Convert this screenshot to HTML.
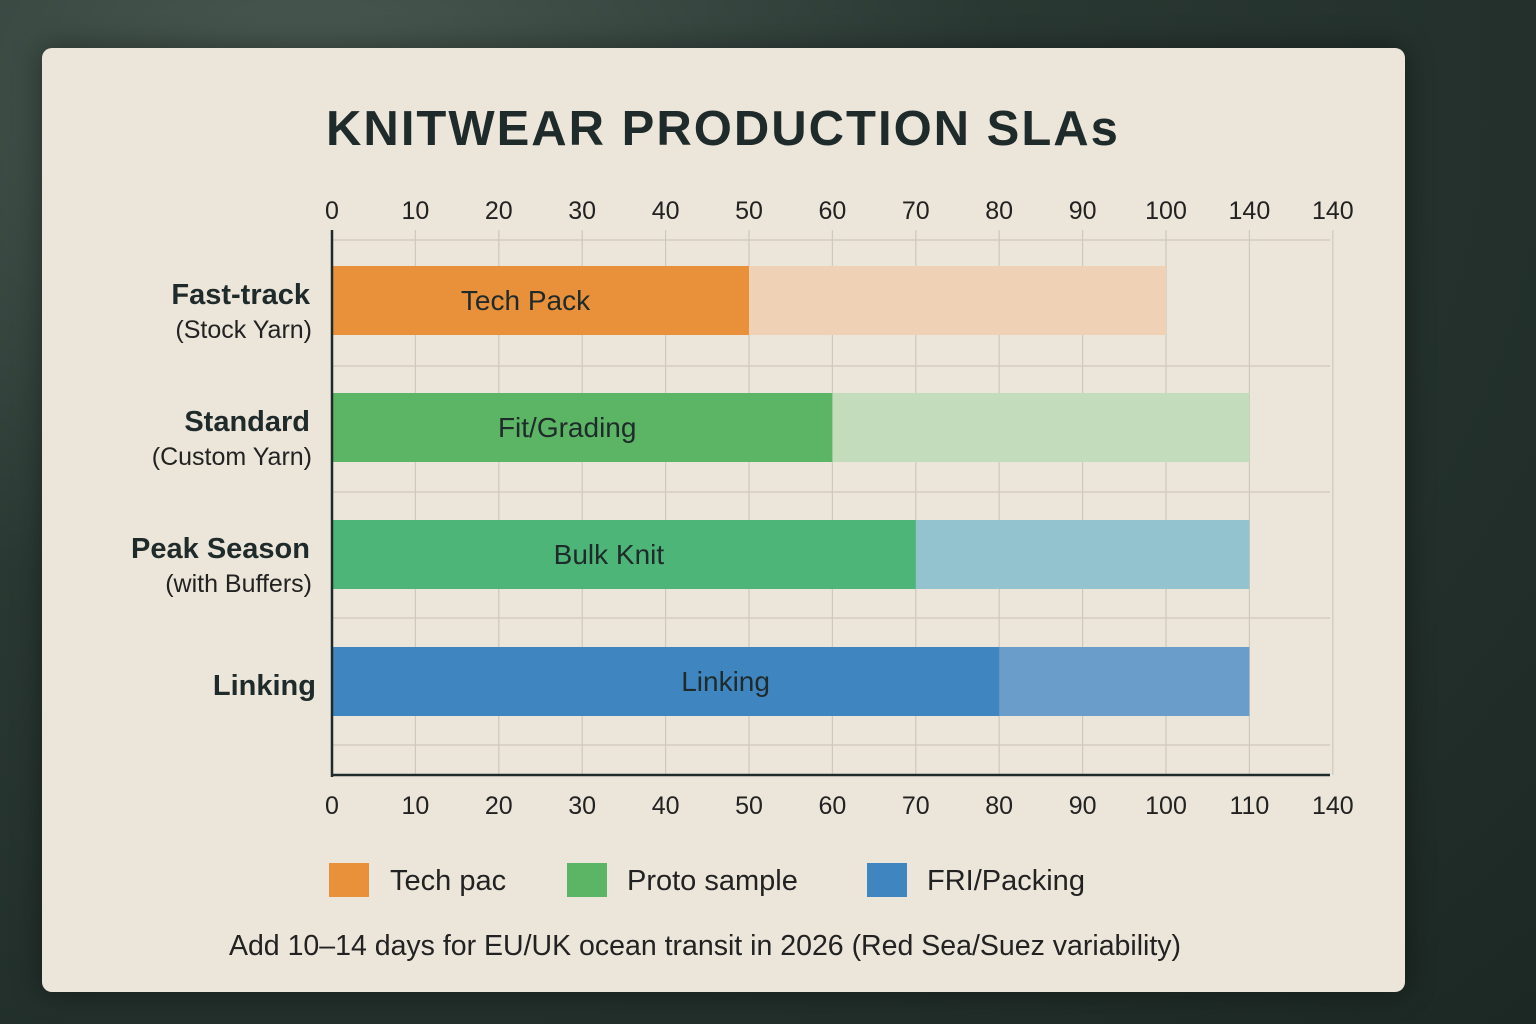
<!DOCTYPE html>
<html><head><meta charset="utf-8">
<style>
html,body{margin:0;padding:0;width:1536px;height:1024px;overflow:hidden;}
body{background:radial-gradient(ellipse at 20% 10%,#4a5a52 0%,#2a3833 40%,#1c2824 100%);font-family:"Liberation Sans",sans-serif;}
#card{position:absolute;left:42px;top:48px;width:1363px;height:944px;background:#ece5da;border-radius:10px;box-shadow:0 0 30px rgba(0,0,0,.4);}
svg{position:absolute;left:0;top:0;}
</style></head><body>
<div id="card"></div>
<svg id="chart" width="1536" height="1024">
<text x="723" y="145" text-anchor="middle" font-size="49" font-weight="bold" fill="#1f2a2a" letter-spacing="2">KNITWEAR PRODUCTION SLAs</text>
<g id="grid"></g><g id="bars"></g><g id="axes"></g>
<g id="legend" font-size="29" fill="#222">
<rect x="329" y="863" width="40" height="34" fill="#e8903a"/>
<text x="390" y="890">Tech pac</text>
<rect x="567" y="863" width="40" height="34" fill="#5cb565"/>
<text x="627" y="890">Proto sample</text>
<rect x="867" y="863" width="40" height="34" fill="#3f86c0"/>
<text x="927" y="890">FRI/Packing</text>
</g>
<text x="705" y="955" text-anchor="middle" font-size="28.5" fill="#222">Add 10–14 days for EU/UK ocean transit in 2026 (Red Sea/Suez variability)</text>
</svg>
<script>
const categories=["Fast-track","Standard","Peak Season","Linking"];
const subLabels=["(Stock Yarn)","(Custom Yarn)","(with Buffers)",""];
const solidValues=[50,60,70,80];
const totalValues=[100,110,110,110];
const barLabels=["Tech Pack","Fit/Grading","Bulk Knit","Linking"];
const topTicks=["0","10","20","30","40","50","60","70","80","90","100","140","140"];
const bottomTicks=["0","10","20","30","40","50","60","70","80","90","100","110","140"];
const solidColors=["#e8903a","#5cb565","#4db577","#3f86c0"];
const lightColors=["#efd2b5","#c3dcbc","#93c3cf","#6a9dca"];
const NS="http://www.w3.org/2000/svg";
const X0=332,STEP=83.4;
function x(v){return X0+v/10*STEP;}
function rowY(i){return 266+i*127;}
function mk(tag,attrs,parent,text){const e=document.createElementNS(NS,tag);for(const k in attrs)e.setAttribute(k,attrs[k]);if(text!==undefined)e.textContent=text;parent.appendChild(e);return e;}
const grid=document.getElementById('grid'),bars=document.getElementById('bars'),axes=document.getElementById('axes');
topTicks.forEach((t,i)=>{
  const gx=X0+i*STEP;
  if(i>0){const l=mk('line',{x1:gx,x2:gx,y1:230,y2:775,stroke:'#cfc8bd','stroke-width':1.2},grid);
  
  }
  const a=mk('text',{x:gx,y:219,'text-anchor':'middle','font-size':25,fill:'#222'},axes,t);
  
  
  const b=mk('text',{x:gx,y:814,'text-anchor':'middle','font-size':25,fill:'#222'},axes,bottomTicks[i]);
  
  
});
[240,366,492,618,745].forEach(gy=>{
  const l=mk('line',{x1:X0,x2:1330,y1:gy,y2:gy,stroke:'#cfc8bd','stroke-width':1.2},grid);
  
  
});
categories.forEach((c,i)=>{
  const y=rowY(i);
  const lr=mk('rect',{x:x(0),y:y,width:x(totalValues[i])-x(0),height:69,fill:lightColors[i]},bars);
  
  
  const sr=mk('rect',{x:x(0),y:y,width:x(solidValues[i])-x(0),height:69,fill:solidColors[i]},bars);
  
  
  const bl=mk('text',{x:(x(0)+x(solidValues[i]))/2+(i==3?60:-15),y:y+44,'text-anchor':'middle','font-size':28,fill:'#1f2a2a'},bars,barLabels[i]);
  
  
  if(subLabels[i]){
    const t=mk('text',{x:310,y:y+38,'text-anchor':'end','font-size':29,'font-weight':'bold',fill:'#1f2a2a'},axes,c);
    
    
    const s=mk('text',{x:312,y:y+72,'text-anchor':'end','font-size':25,fill:'#222'},axes,subLabels[i]);
    
    
  } else {
    const t=mk('text',{x:316,y:y+48,'text-anchor':'end','font-size':29,'font-weight':'bold',fill:'#1f2a2a'},axes,c);
    
    
  }
});
const ya=mk('line',{x1:X0,x2:X0,y1:230,y2:777,stroke:'#1f2a2a','stroke-width':2.5},axes);


const xa=mk('line',{x1:X0,x2:1330,y1:775,y2:775,stroke:'#1f2a2a','stroke-width':2.5},axes);


</script>
</body></html>
